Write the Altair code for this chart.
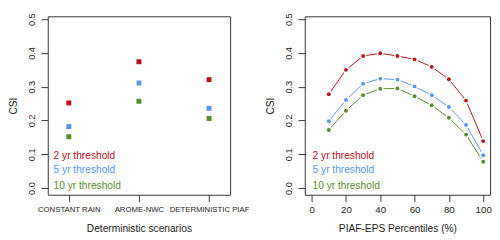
import altair as alt
import pandas as pd

categories = ["CONSTANT RAIN", "AROME-NWC", "DETERMINISTIC PIAF"]
thresholds = ["2 yr threshold", "5 yr threshold", "10 yr threshold"]
colors = ["#bd0f1c", "#5595ef", "#5a8a2a"]
line_colors = ["#d8707a", "#9cc0f5", "#9dba80"]

csi2_det = [0.252, 0.374, 0.321]
csi5_det = [0.182, 0.311, 0.236]
csi10_det = [0.152, 0.257, 0.206]

percentiles = [10, 20, 30, 40, 50, 60, 70, 80, 90, 100]
csi2_eps = [0.278, 0.350, 0.391, 0.399, 0.391, 0.381, 0.359, 0.322, 0.259, 0.139]
csi5_eps = [0.198, 0.261, 0.309, 0.324, 0.321, 0.301, 0.275, 0.240, 0.187, 0.097]
csi10_eps = [0.172, 0.229, 0.275, 0.294, 0.295, 0.272, 0.245, 0.208, 0.158, 0.078]

FONT = "Liberation Sans"

det_rows = []
for t, vals in zip(thresholds, [csi2_det, csi5_det, csi10_det]):
    for i, (c, v) in enumerate(zip(categories, vals)):
        det_rows.append({"pos": i + 1, "cat": c, "thr": t, "csi": v})
det = pd.DataFrame(det_rows)

eps_rows = []
for t, vals in zip(thresholds, [csi2_eps, csi5_eps, csi10_eps]):
    for p, v in zip(percentiles, vals):
        eps_rows.append({"p": p, "thr": t, "csi": v})
eps = pd.DataFrame(eps_rows)

color_scale = alt.Scale(domain=thresholds, range=colors)
line_scale = alt.Scale(domain=thresholds, range=line_colors)

yscale = alt.Scale(domain=[-0.02, 0.5086], nice=False, zero=False)
yaxis = alt.Axis(
    title="CSI", values=[0, 0.1, 0.2, 0.3, 0.4, 0.5], format=".1f",
    tickSize=7, tickColor="#333", domain=False, grid=False,
    labelAngle=270, labelAlign="center", labelBaseline="bottom",
    labelFontSize=9.5, labelColor="#222", labelPadding=5, labelFont=FONT,
    titleFontSize=10.5, titleFont=FONT, titleFontWeight="normal", titleColor="#222",
    titlePadding=8,
)

label_expr = " : ".join(
    [f"datum.value == {i+1} ? '{c}'" for i, c in enumerate(categories[:-1])]
) + f" : '{categories[-1]}'"

xaxis_left = alt.Axis(
    title="Deterministic scenarios", values=[1, 2, 3], labelExpr=label_expr,
    tickSize=7, tickColor="#333", domain=False, grid=False,
    labelFontSize=8, labelColor="#222", labelPadding=4, labelFont=FONT,
    labelOverlap=False, labelFlush=False,
    titleFontSize=10.5, titleFont=FONT, titleFontWeight="normal", titleColor="#222",
    titlePadding=11,
)

xaxis_right = alt.Axis(
    title="PIAF-EPS Percentiles (%)", values=[0, 20, 40, 60, 80, 100],
    tickSize=7, tickColor="#333", domain=False, grid=False,
    labelFontSize=10, labelColor="#222", labelPadding=3, labelFont=FONT,
    labelFlush=False,
    titleFontSize=10.5, titleFont=FONT, titleFontWeight="normal", titleColor="#222",
    titlePadding=10,
)

W, H = 188, 184
legend_y = [144, 159, 175]


def legend_layers(xpix):
    out = []
    for t, c, yy in zip(thresholds, colors, legend_y):
        out.append(
            alt.Chart(pd.DataFrame({"t": [t]})).mark_text(
                align="left", baseline="middle", font=FONT, fontSize=10.5, color=c
            ).encode(x=alt.value(xpix), y=alt.value(yy), text="t:N")
        )
    return out


left_pts = alt.Chart(det).mark_square(size=26, opacity=1, filled=True).encode(
    x=alt.X("pos:Q", scale=alt.Scale(domain=[0.7, 3.3], nice=False, zero=False), axis=xaxis_left),
    y=alt.Y("csi:Q", scale=yscale, axis=yaxis),
    color=alt.Color("thr:N", scale=color_scale, legend=None),
)
left = alt.layer(left_pts, *legend_layers(6)).properties(width=W, height=H)

xr = alt.X("p:Q", scale=alt.Scale(domain=[-4, 104], nice=False, zero=False), axis=xaxis_right)
yr = alt.Y("csi:Q", scale=yscale, axis=yaxis)
r_line = alt.Chart(eps).mark_line(strokeWidth=1).encode(
    x=xr, y=yr, color=alt.Color("thr:N", scale=line_scale, legend=None), detail="thr:N"
)
r_halo = alt.Chart(eps).mark_circle(size=50, color="white", opacity=1).encode(x=xr, y=yr)
r_pts = alt.Chart(eps).mark_circle(size=16, opacity=1).encode(
    x=xr, y=yr, color=alt.Color("thr:N", scale=color_scale, legend=None)
)
right = alt.layer(r_line, r_halo, r_pts, *legend_layers(8)).properties(width=191, height=H)

chart = alt.hconcat(left, right, spacing=77, bounds="flush").configure_view(
    stroke="#333", strokeWidth=1
).properties(padding=0, background="white")

chart.save("out.html", embed_options={"renderer": "svg", "actions": False})
